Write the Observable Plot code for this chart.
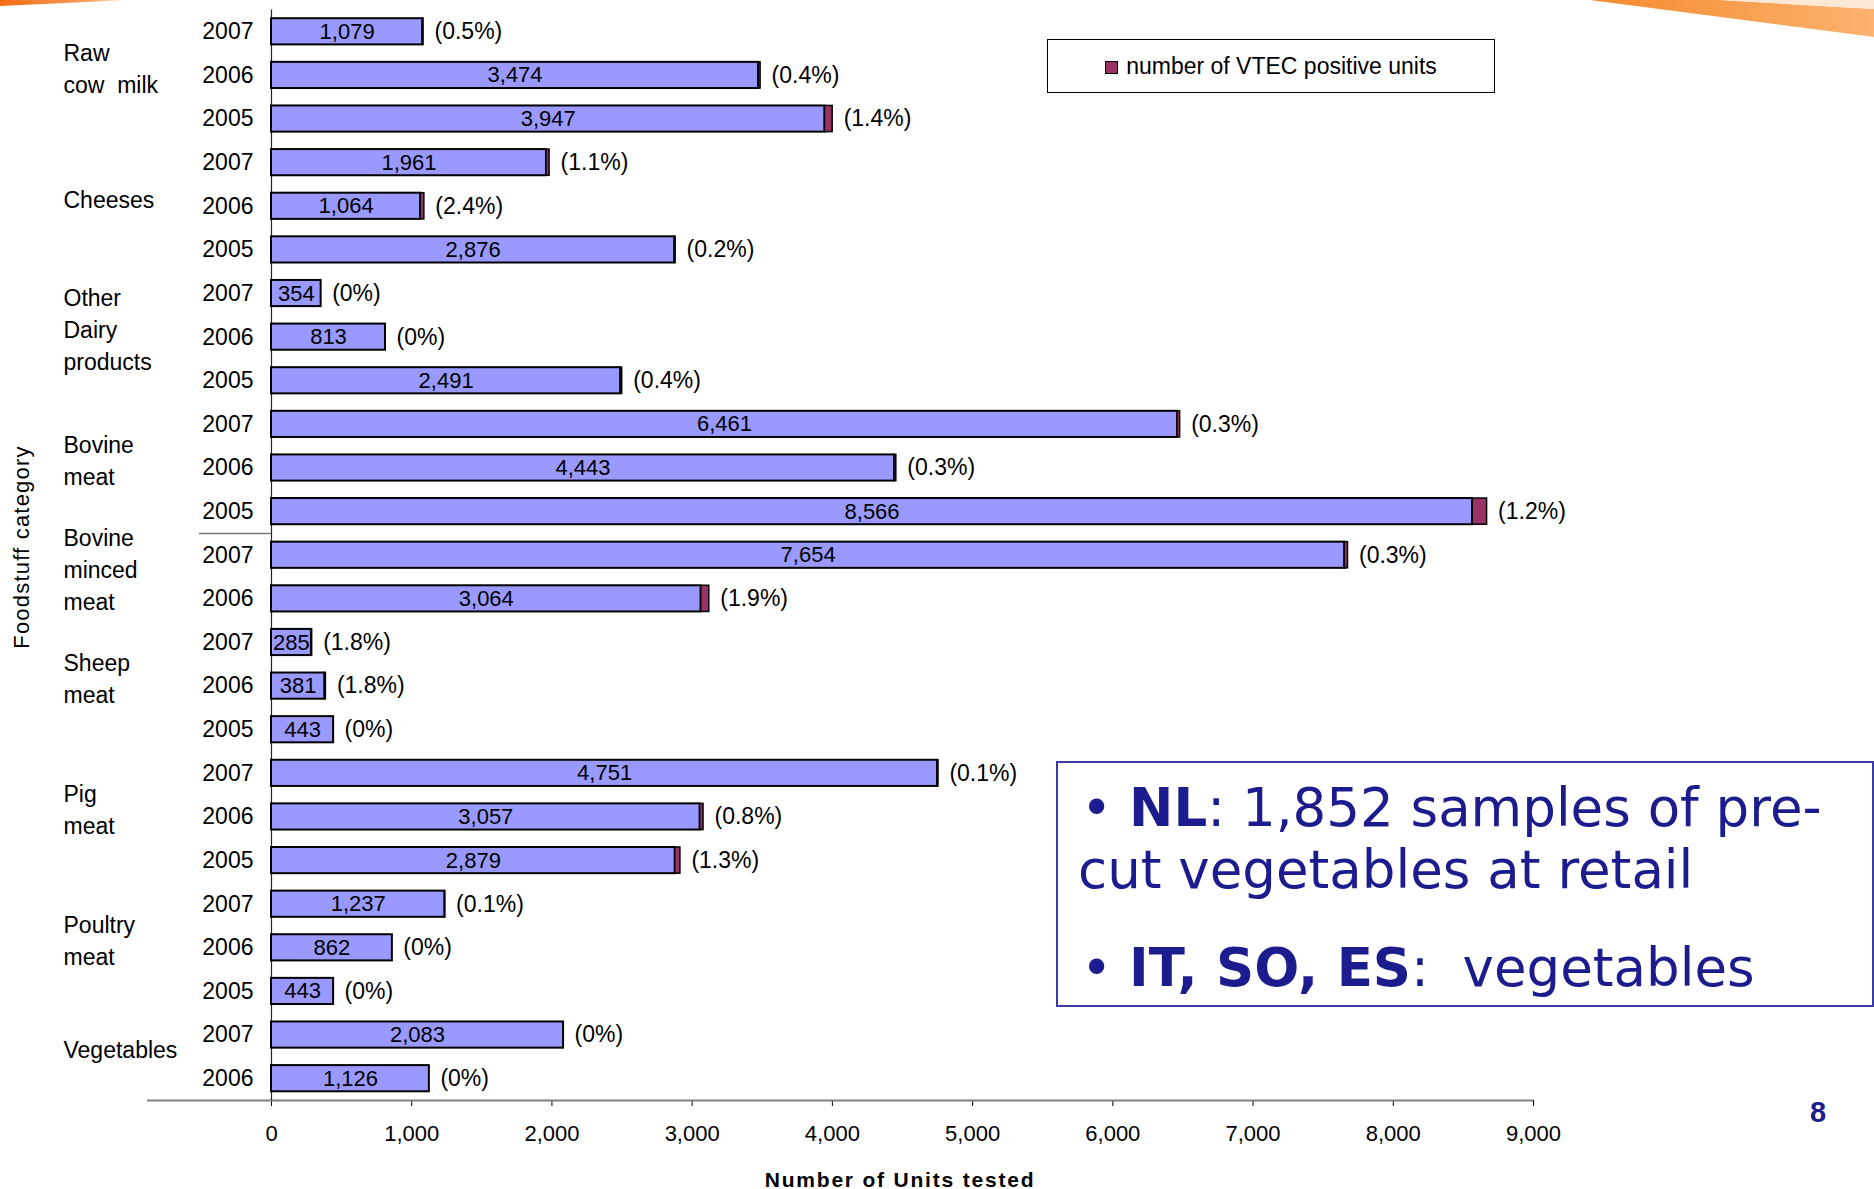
<!DOCTYPE html>
<html>
<head>
<meta charset="utf-8">
<script src="https://cdn.jsdelivr.net/npm/d3@7"></script>
<script src="https://cdn.jsdelivr.net/npm/@observablehq/plot@0.6"></script>
<style>
html, body { margin: 0; padding: 0; background: #fff; }
#page { position: relative; width: 1874px; height: 1189px; overflow: hidden; font-family: "Liberation Sans", Arial, sans-serif; }
#chart { position: absolute; left: 0; top: 0; }
.deco-tr { position: absolute; left: 1590px; top: 0; width: 284px; height: 40px;
  background: linear-gradient(90deg, #f58a2e, #fbb36f);
  clip-path: polygon(0px 0px, 130px 0px, 284px 9px, 284px 37px); }
.deco-tr2 { position: absolute; left: 1720px; top: 0; width: 154px; height: 10px; background: #fde8d6;
  clip-path: polygon(0px 0px, 154px 0px, 154px 9px); }
.deco-tl { position: absolute; left: 0; top: 0; width: 130px; height: 7px;
  background: linear-gradient(90deg, #f26b10, #f7a060 70%, #ffffff);
  clip-path: polygon(0px 0px, 130px 0px, 0px 6px); }
.legend { position: absolute; left: 1047px; top: 39px; width: 448px; height: 54px; box-sizing: border-box;
  border: 1px solid #000; display: flex; align-items: center; justify-content: center; font-size: 23px; color: #000; }
.legend .sw { width: 11px; height: 11px; background: #993366; border: 1.5px solid #000; margin-right: 8px; margin-top: 2px; }
.note { position: absolute; left: 1056px; top: 761px; width: 818px; height: 246px; box-sizing: border-box;
  border: 2px solid #3a3aa8; color: #1c1c8f; font-family: "DejaVu Sans", Verdana, sans-serif; font-size: 53px; }
.note div { position: absolute; white-space: pre; line-height: 53px; }
.pagenum { position: absolute; left: 1800px; top: 1096px; width: 36px; text-align: center; font-weight: bold; font-size: 29px; color: #1c1c8f; }
.ytitle { position: absolute; left: 22px; top: 547px; transform: translate(-50%, -50%) rotate(-90deg);
  white-space: nowrap; font-size: 22px; letter-spacing: 1.2px; color: #000; line-height: 1; }
.xtitle { position: absolute; left: 900px; top: 1179px; transform: translate(-50%, -50%);
  white-space: nowrap; font-size: 21px; font-weight: bold; letter-spacing: 1.8px; color: #000; line-height: 1; }
</style>
</head>
<body>
<div id="page">
  <div class="deco-tl"></div>
  <div class="deco-tr"></div>
  <div class="deco-tr2"></div>
  <div id="chart"></div>
  <div class="ytitle">Foodstuff category</div>
  <div class="xtitle">Number of Units tested</div>
  <div class="legend"><div class="sw"></div><span>number of VTEC positive units</span></div>
  <div class="note">
    <div style="left:23px; top:18px;">• <b>NL</b>: 1,852 samples of pre-</div>
    <div style="left:20px; top:80px;">cut vegetables at retail</div>
    <div style="left:23px; top:178px;">• <b>IT, SO, ES</b>:  vegetables</div>
  </div>
  <div class="pagenum">8</div>
</div>
<script>
// ---- data ----
const categories = ["Raw cow milk", "Cheeses", "Other Dairy products", "Bovine meat", "Bovine minced meat", "Sheep meat", "Pig meat", "Poultry meat", "Vegetables"];
const categoryLabels = ["Raw\ncow\u00a0 milk", "Cheeses", "Other\nDairy\nproducts", "Bovine\nmeat", "Bovine\nminced\nmeat", "Sheep\nmeat", "Pig\nmeat", "Poultry\nmeat", "Vegetables"];
const rowCategory = [
  "Raw cow milk", "Raw cow milk", "Raw cow milk",
  "Cheeses", "Cheeses", "Cheeses",
  "Other Dairy products", "Other Dairy products", "Other Dairy products",
  "Bovine meat", "Bovine meat", "Bovine meat",
  "Bovine minced meat", "Bovine minced meat",
  "Sheep meat", "Sheep meat", "Sheep meat",
  "Pig meat", "Pig meat", "Pig meat",
  "Poultry meat", "Poultry meat", "Poultry meat",
  "Vegetables", "Vegetables"
];
const years = [2007, 2006, 2005, 2007, 2006, 2005, 2007, 2006, 2005, 2007, 2006, 2005, 2007, 2006, 2007, 2006, 2005, 2007, 2006, 2005, 2007, 2006, 2005, 2007, 2006];
const unitsTested = [1079, 3474, 3947, 1961, 1064, 2876, 354, 813, 2491, 6461, 4443, 8566, 7654, 3064, 285, 381, 443, 4751, 3057, 2879, 1237, 862, 443, 2083, 1126];
const positiveUnits = [5, 14, 55, 22, 26, 6, 0, 0, 10, 19, 13, 103, 23, 58, 5, 7, 0, 5, 24, 37, 1, 0, 0, 0, 0];
const positivePct = [0.5, 0.4, 1.4, 1.1, 2.4, 0.2, 0, 0, 0.4, 0.3, 0.3, 1.2, 0.3, 1.9, 1.8, 1.8, 0, 0.1, 0.8, 1.3, 0.1, 0, 0, 0, 0];
const xTicks = [0, 1000, 2000, 3000, 4000, 5000, 6000, 7000, 8000, 9000];
const subGroups = ["Bovine minced meat"]; // sub-category of bovine: shorter separator above it

// ---- build table ----
const rows = years.map((yr, i) => ({
  key: rowCategory[i] + "|" + yr,
  cat: rowCategory[i],
  year: yr,
  tested: unitsTested[i],
  positive: positiveUnits[i],
  pct: positivePct[i]
}));
const groups = categories.map((c, gi) => {
  const keys = rows.filter(r => r.cat === c).map(r => r.key);
  return {cat: c, label: categoryLabels[gi], keys, first: keys[0], last: keys[keys.length - 1],
    mid: keys[Math.floor((keys.length - 1) / 2)], even: keys.length % 2 === 0};
});

const W = 1874, H = 1189, mT = 9.5, mB = 89, mL = 147, mR = 341;
const step = (H - mT - mB) / rows.length;
const fmt = d3.format(",");

const plot = Plot.plot({
  width: W, height: H,
  marginTop: mT, marginBottom: mB, marginLeft: mL, marginRight: mR,
  style: {fontFamily: "'Liberation Sans', Arial, sans-serif", fontSize: "22px", color: "#000", background: "transparent"},
  x: {domain: [0, 9000], range: [271, 1533], ticks: xTicks, tickFormat: d => fmt(d), tickSize: 6, tickPadding: 19, label: null},
  y: {domain: rows.map(r => r.key), paddingInner: 0.4, paddingOuter: 0.2, round: false, axis: null},
  marks: [
    // group separators (category axis area)
    Plot.ruleY(groups.filter(g => !subGroups.includes(g.cat)), {y: "first", x2: () => 0, dy: -step / 2, stroke: "#555", strokeWidth: 1.5}),
    // shorter separator for the bovine sub-category (full-frame rule, only its 52–125px stretch drawn)
    Plot.ruleY(groups.filter(g => subGroups.includes(g.cat)), {y: "first", dy: -step / 2, stroke: "#777", strokeWidth: 1.5, strokeDasharray: "0 52 73 3000"}),
    // bottom axis line
    Plot.ruleY([groups[groups.length - 1]], {y: "last", dy: step / 2, stroke: "#808080", strokeWidth: 2}),
    // vertical axis line
    Plot.ruleX([0], {stroke: "#222", strokeWidth: 1.2}),
    // tested bars
    Plot.barX(rows, {y: "key", x1: () => 0, x2: "tested", fill: "#9999ff", stroke: "#000", strokeWidth: 2}),
    // positive bars
    Plot.barX(rows.filter(r => r.positive > 0), {y: "key", x1: "tested", x2: d => d.tested + d.positive, fill: "#993366", stroke: "#000", strokeWidth: 1.5}),
    // value labels
    Plot.text(rows, {y: "key", x: d => d.tested / 2, text: d => fmt(d.tested), fontSize: 22, fill: "#000"}),
    // percentage labels
    Plot.text(rows, {y: "key", x: d => d.tested + d.positive, text: d => `(${d.pct}%)`, textAnchor: "start", dx: 11, fontSize: 23, fill: "#000"}),
    // year labels
    Plot.text(rows, {y: "key", x: () => 0, text: d => String(d.year), textAnchor: "end", dx: -18, fontSize: 23, fill: "#000"}),
    // category labels
    Plot.text(groups.filter(g => !g.even), {y: "mid", x: () => 0, text: "label", textAnchor: "start", dx: -208, dy: -9, lineHeight: 1.39, fontSize: 23, fill: "#000"}),
    Plot.text(groups.filter(g => g.even), {y: "mid", x: () => 0, text: "label", textAnchor: "start", dx: -208, dy: step / 2 - 9, lineHeight: 1.39, fontSize: 23, fill: "#000"})
  ]
});
document.getElementById("chart").appendChild(plot);
</script>
</body>
</html>
